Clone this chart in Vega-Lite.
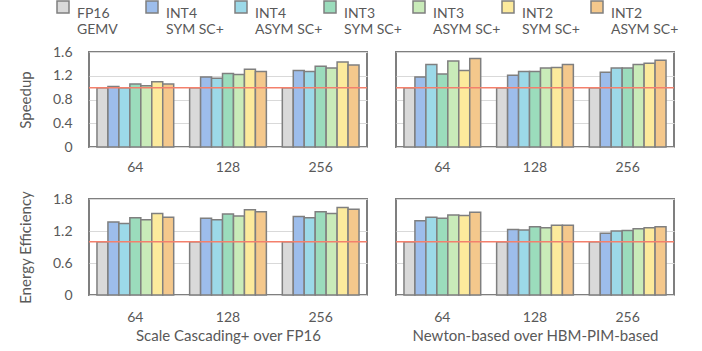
{
  "$schema": "https://vega.github.io/schema/vega-lite/v6.json",
  "padding": {"left": 17, "top": 0, "right": 5, "bottom": 5},
  "config": {
    "font": "Lato",
    "view": {"stroke": "#7f7f7f", "strokeWidth": 2},
    "axis": {"labelColor": "#595959", "titleColor": "#595959", "labelFontSize": 14, "titleFontSize": 15, "titleFontWeight": "normal", "domain": false, "ticks": false, "tickSize": 0, "gridColor": "#d9d9d9", "gridWidth": 1, "labelOverlap": false},
    "legend": {"labelColor": "#595959"}
  },
  "data": {"values": [
    {"p": "SU_SC", "g": "64", "s": "FP16 GEMV", "v": 1.0},
    {"p": "SU_SC", "g": "64", "s": "INT4 SYM SC+", "v": 1.02},
    {"p": "SU_SC", "g": "64", "s": "INT4 ASYM SC+", "v": 1.0},
    {"p": "SU_SC", "g": "64", "s": "INT3 SYM SC+", "v": 1.06},
    {"p": "SU_SC", "g": "64", "s": "INT3 ASYM SC+", "v": 1.03},
    {"p": "SU_SC", "g": "64", "s": "INT2 SYM SC+", "v": 1.10},
    {"p": "SU_SC", "g": "64", "s": "INT2 ASYM SC+", "v": 1.06},
    {"p": "SU_SC", "g": "128", "s": "FP16 GEMV", "v": 1.0},
    {"p": "SU_SC", "g": "128", "s": "INT4 SYM SC+", "v": 1.18},
    {"p": "SU_SC", "g": "128", "s": "INT4 ASYM SC+", "v": 1.16},
    {"p": "SU_SC", "g": "128", "s": "INT3 SYM SC+", "v": 1.24},
    {"p": "SU_SC", "g": "128", "s": "INT3 ASYM SC+", "v": 1.22},
    {"p": "SU_SC", "g": "128", "s": "INT2 SYM SC+", "v": 1.31},
    {"p": "SU_SC", "g": "128", "s": "INT2 ASYM SC+", "v": 1.27},
    {"p": "SU_SC", "g": "256", "s": "FP16 GEMV", "v": 1.0},
    {"p": "SU_SC", "g": "256", "s": "INT4 SYM SC+", "v": 1.29},
    {"p": "SU_SC", "g": "256", "s": "INT4 ASYM SC+", "v": 1.27},
    {"p": "SU_SC", "g": "256", "s": "INT3 SYM SC+", "v": 1.36},
    {"p": "SU_SC", "g": "256", "s": "INT3 ASYM SC+", "v": 1.33},
    {"p": "SU_SC", "g": "256", "s": "INT2 SYM SC+", "v": 1.43},
    {"p": "SU_SC", "g": "256", "s": "INT2 ASYM SC+", "v": 1.38},
    {"p": "SU_NB", "g": "64", "s": "FP16 GEMV", "v": 1.0},
    {"p": "SU_NB", "g": "64", "s": "INT4 SYM SC+", "v": 1.18},
    {"p": "SU_NB", "g": "64", "s": "INT4 ASYM SC+", "v": 1.39},
    {"p": "SU_NB", "g": "64", "s": "INT3 SYM SC+", "v": 1.23},
    {"p": "SU_NB", "g": "64", "s": "INT3 ASYM SC+", "v": 1.45},
    {"p": "SU_NB", "g": "64", "s": "INT2 SYM SC+", "v": 1.29},
    {"p": "SU_NB", "g": "64", "s": "INT2 ASYM SC+", "v": 1.49},
    {"p": "SU_NB", "g": "128", "s": "FP16 GEMV", "v": 1.0},
    {"p": "SU_NB", "g": "128", "s": "INT4 SYM SC+", "v": 1.21},
    {"p": "SU_NB", "g": "128", "s": "INT4 ASYM SC+", "v": 1.27},
    {"p": "SU_NB", "g": "128", "s": "INT3 SYM SC+", "v": 1.27},
    {"p": "SU_NB", "g": "128", "s": "INT3 ASYM SC+", "v": 1.33},
    {"p": "SU_NB", "g": "128", "s": "INT2 SYM SC+", "v": 1.34},
    {"p": "SU_NB", "g": "128", "s": "INT2 ASYM SC+", "v": 1.39},
    {"p": "SU_NB", "g": "256", "s": "FP16 GEMV", "v": 1.0},
    {"p": "SU_NB", "g": "256", "s": "INT4 SYM SC+", "v": 1.26},
    {"p": "SU_NB", "g": "256", "s": "INT4 ASYM SC+", "v": 1.33},
    {"p": "SU_NB", "g": "256", "s": "INT3 SYM SC+", "v": 1.33},
    {"p": "SU_NB", "g": "256", "s": "INT3 ASYM SC+", "v": 1.39},
    {"p": "SU_NB", "g": "256", "s": "INT2 SYM SC+", "v": 1.41},
    {"p": "SU_NB", "g": "256", "s": "INT2 ASYM SC+", "v": 1.46},
    {"p": "EE_SC", "g": "64", "s": "FP16 GEMV", "v": 1.0},
    {"p": "EE_SC", "g": "64", "s": "INT4 SYM SC+", "v": 1.37},
    {"p": "EE_SC", "g": "64", "s": "INT4 ASYM SC+", "v": 1.34},
    {"p": "EE_SC", "g": "64", "s": "INT3 SYM SC+", "v": 1.45},
    {"p": "EE_SC", "g": "64", "s": "INT3 ASYM SC+", "v": 1.41},
    {"p": "EE_SC", "g": "64", "s": "INT2 SYM SC+", "v": 1.53},
    {"p": "EE_SC", "g": "64", "s": "INT2 ASYM SC+", "v": 1.46},
    {"p": "EE_SC", "g": "128", "s": "FP16 GEMV", "v": 1.0},
    {"p": "EE_SC", "g": "128", "s": "INT4 SYM SC+", "v": 1.44},
    {"p": "EE_SC", "g": "128", "s": "INT4 ASYM SC+", "v": 1.41},
    {"p": "EE_SC", "g": "128", "s": "INT3 SYM SC+", "v": 1.52},
    {"p": "EE_SC", "g": "128", "s": "INT3 ASYM SC+", "v": 1.48},
    {"p": "EE_SC", "g": "128", "s": "INT2 SYM SC+", "v": 1.60},
    {"p": "EE_SC", "g": "128", "s": "INT2 ASYM SC+", "v": 1.56},
    {"p": "EE_SC", "g": "256", "s": "FP16 GEMV", "v": 1.0},
    {"p": "EE_SC", "g": "256", "s": "INT4 SYM SC+", "v": 1.47},
    {"p": "EE_SC", "g": "256", "s": "INT4 ASYM SC+", "v": 1.45},
    {"p": "EE_SC", "g": "256", "s": "INT3 SYM SC+", "v": 1.56},
    {"p": "EE_SC", "g": "256", "s": "INT3 ASYM SC+", "v": 1.53},
    {"p": "EE_SC", "g": "256", "s": "INT2 SYM SC+", "v": 1.64},
    {"p": "EE_SC", "g": "256", "s": "INT2 ASYM SC+", "v": 1.61},
    {"p": "EE_NB", "g": "64", "s": "FP16 GEMV", "v": 1.0},
    {"p": "EE_NB", "g": "64", "s": "INT4 SYM SC+", "v": 1.39},
    {"p": "EE_NB", "g": "64", "s": "INT4 ASYM SC+", "v": 1.46},
    {"p": "EE_NB", "g": "64", "s": "INT3 SYM SC+", "v": 1.44},
    {"p": "EE_NB", "g": "64", "s": "INT3 ASYM SC+", "v": 1.50},
    {"p": "EE_NB", "g": "64", "s": "INT2 SYM SC+", "v": 1.49},
    {"p": "EE_NB", "g": "64", "s": "INT2 ASYM SC+", "v": 1.55},
    {"p": "EE_NB", "g": "128", "s": "FP16 GEMV", "v": 1.0},
    {"p": "EE_NB", "g": "128", "s": "INT4 SYM SC+", "v": 1.23},
    {"p": "EE_NB", "g": "128", "s": "INT4 ASYM SC+", "v": 1.22},
    {"p": "EE_NB", "g": "128", "s": "INT3 SYM SC+", "v": 1.28},
    {"p": "EE_NB", "g": "128", "s": "INT3 ASYM SC+", "v": 1.26},
    {"p": "EE_NB", "g": "128", "s": "INT2 SYM SC+", "v": 1.31},
    {"p": "EE_NB", "g": "128", "s": "INT2 ASYM SC+", "v": 1.31},
    {"p": "EE_NB", "g": "256", "s": "FP16 GEMV", "v": 1.0},
    {"p": "EE_NB", "g": "256", "s": "INT4 SYM SC+", "v": 1.16},
    {"p": "EE_NB", "g": "256", "s": "INT4 ASYM SC+", "v": 1.20},
    {"p": "EE_NB", "g": "256", "s": "INT3 SYM SC+", "v": 1.21},
    {"p": "EE_NB", "g": "256", "s": "INT3 ASYM SC+", "v": 1.24},
    {"p": "EE_NB", "g": "256", "s": "INT2 SYM SC+", "v": 1.26},
    {"p": "EE_NB", "g": "256", "s": "INT2 ASYM SC+", "v": 1.28}
  ]},
  "vconcat": [
    {
      "hconcat": [
        {
          "width": 278, "height": 95,
          "layer": [
            {
              "transform": [{"filter": "datum.p === 'SU_SC'"}],
              "mark": {"type": "bar", "stroke": "#7f7f7f", "strokeWidth": 1.5},
              "encoding": {
                "x": {"field": "g", "type": "nominal", "sort": ["64", "128", "256"], "scale": {"paddingInner": 0.172, "paddingOuter": 0.086}, "axis": {"title": null, "labelAngle": 0, "labelPadding": 13}},
                "xOffset": {"field": "s", "type": "nominal", "sort": ["FP16 GEMV", "INT4 SYM SC+", "INT4 ASYM SC+", "INT3 SYM SC+", "INT3 ASYM SC+", "INT2 SYM SC+", "INT2 ASYM SC+"], "scale": {"paddingInner": 0, "paddingOuter": 0}},
                "y": {"field": "v", "type": "quantitative", "scale": {"domain": [0, 1.6], "nice": false}, "axis": {"title": "Speedup", "values": [0, 0.4, 0.8, 1.2, 1.6], "tickCount": 10, "format": ".1~f", "labelOverlap": false, "labelPadding": 17, "titlePadding": 19}},
                "color": {
                  "field": "s", "type": "nominal",
                  "scale": {"domain": ["FP16 GEMV", "INT4 SYM SC+", "INT4 ASYM SC+", "INT3 SYM SC+", "INT3 ASYM SC+", "INT2 SYM SC+", "INT2 ASYM SC+"], "range": ["#d9d9d9", "#9dbdeb", "#9cd9e8", "#9bdcbc", "#c9ebb9", "#fcea9c", "#f4c88c"]},
                  "legend": {"orient": "none", "legendX": -33, "legendY": -52, "direction": "horizontal", "columns": 7, "gridAlign": "all", "columnPadding": -6, "title": null, "symbolType": "square", "symbolSize": 144, "symbolStrokeColor": "#7f7f7f", "symbolStrokeWidth": 1.5, "symbolOpacity": 1, "labelFontSize": 14, "labelOffset": 7, "labelBaseline": "top", "labelExpr": "[slice(datum.label, 0, 4), slice(datum.label, 5)]"}
                }
              }
            },
            {"data": {"values": [{}]}, "mark": {"type": "rule", "color": "#f4806c", "strokeWidth": 1.5}, "encoding": {"y": {"datum": 1}}}
          ]
        },
        {
          "width": 278, "height": 95,
          "layer": [
            {
              "transform": [{"filter": "datum.p === 'SU_NB'"}],
              "mark": {"type": "bar", "stroke": "#7f7f7f", "strokeWidth": 1.5},
              "encoding": {
                "x": {"field": "g", "type": "nominal", "sort": ["64", "128", "256"], "scale": {"paddingInner": 0.172, "paddingOuter": 0.086}, "axis": {"title": null, "labelAngle": 0, "labelPadding": 13}},
                "xOffset": {"field": "s", "type": "nominal", "sort": ["FP16 GEMV", "INT4 SYM SC+", "INT4 ASYM SC+", "INT3 SYM SC+", "INT3 ASYM SC+", "INT2 SYM SC+", "INT2 ASYM SC+"], "scale": {"paddingInner": 0, "paddingOuter": 0}},
                "y": {"field": "v", "type": "quantitative", "scale": {"domain": [0, 1.6], "nice": false}, "axis": {"title": null, "values": [0, 0.4, 0.8, 1.2, 1.6], "tickCount": 10, "labels": false}},
                "color": {"field": "s", "type": "nominal"}
              }
            },
            {"data": {"values": [{}]}, "mark": {"type": "rule", "color": "#f4806c", "strokeWidth": 1.5}, "encoding": {"y": {"datum": 1}}}
          ]
        }
      ],
      "spacing": 25
    },
    {
      "hconcat": [
        {
          "width": 278, "height": 96,
          "layer": [
            {
              "transform": [{"filter": "datum.p === 'EE_SC'"}],
              "mark": {"type": "bar", "stroke": "#7f7f7f", "strokeWidth": 1.5},
              "encoding": {
                "x": {"field": "g", "type": "nominal", "sort": ["64", "128", "256"], "scale": {"paddingInner": 0.172, "paddingOuter": 0.086}, "axis": {"title": "Scale Cascading+ over FP16", "titleFontSize": 15, "labelAngle": 0, "labelPadding": 15, "titlePadding": 4}},
                "xOffset": {"field": "s", "type": "nominal", "sort": ["FP16 GEMV", "INT4 SYM SC+", "INT4 ASYM SC+", "INT3 SYM SC+", "INT3 ASYM SC+", "INT2 SYM SC+", "INT2 ASYM SC+"], "scale": {"paddingInner": 0, "paddingOuter": 0}},
                "y": {"field": "v", "type": "quantitative", "scale": {"domain": [0, 1.8], "nice": false}, "axis": {"title": "Energy Efficiency", "values": [0, 0.6, 1.2, 1.8], "tickCount": 10, "format": ".1~f", "labelOverlap": false, "labelPadding": 17, "titlePadding": 19}},
                "color": {"field": "s", "type": "nominal"}
              }
            },
            {"data": {"values": [{}]}, "mark": {"type": "rule", "color": "#f4806c", "strokeWidth": 1.5}, "encoding": {"y": {"datum": 1}}}
          ]
        },
        {
          "width": 278, "height": 96,
          "layer": [
            {
              "transform": [{"filter": "datum.p === 'EE_NB'"}],
              "mark": {"type": "bar", "stroke": "#7f7f7f", "strokeWidth": 1.5},
              "encoding": {
                "x": {"field": "g", "type": "nominal", "sort": ["64", "128", "256"], "scale": {"paddingInner": 0.172, "paddingOuter": 0.086}, "axis": {"title": "Newton-based over HBM-PIM-based", "titleFontSize": 15, "labelAngle": 0, "labelPadding": 15, "titlePadding": 4}},
                "xOffset": {"field": "s", "type": "nominal", "sort": ["FP16 GEMV", "INT4 SYM SC+", "INT4 ASYM SC+", "INT3 SYM SC+", "INT3 ASYM SC+", "INT2 SYM SC+", "INT2 ASYM SC+"], "scale": {"paddingInner": 0, "paddingOuter": 0}},
                "y": {"field": "v", "type": "quantitative", "scale": {"domain": [0, 1.8], "nice": false}, "axis": {"title": null, "values": [0, 0.6, 1.2, 1.8], "tickCount": 10, "labels": false}},
                "color": {"field": "s", "type": "nominal"}
              }
            },
            {"data": {"values": [{}]}, "mark": {"type": "rule", "color": "#f4806c", "strokeWidth": 1.5}, "encoding": {"y": {"datum": 1}}}
          ]
        }
      ],
      "spacing": 25
    }
  ],
  "spacing": 14
}
